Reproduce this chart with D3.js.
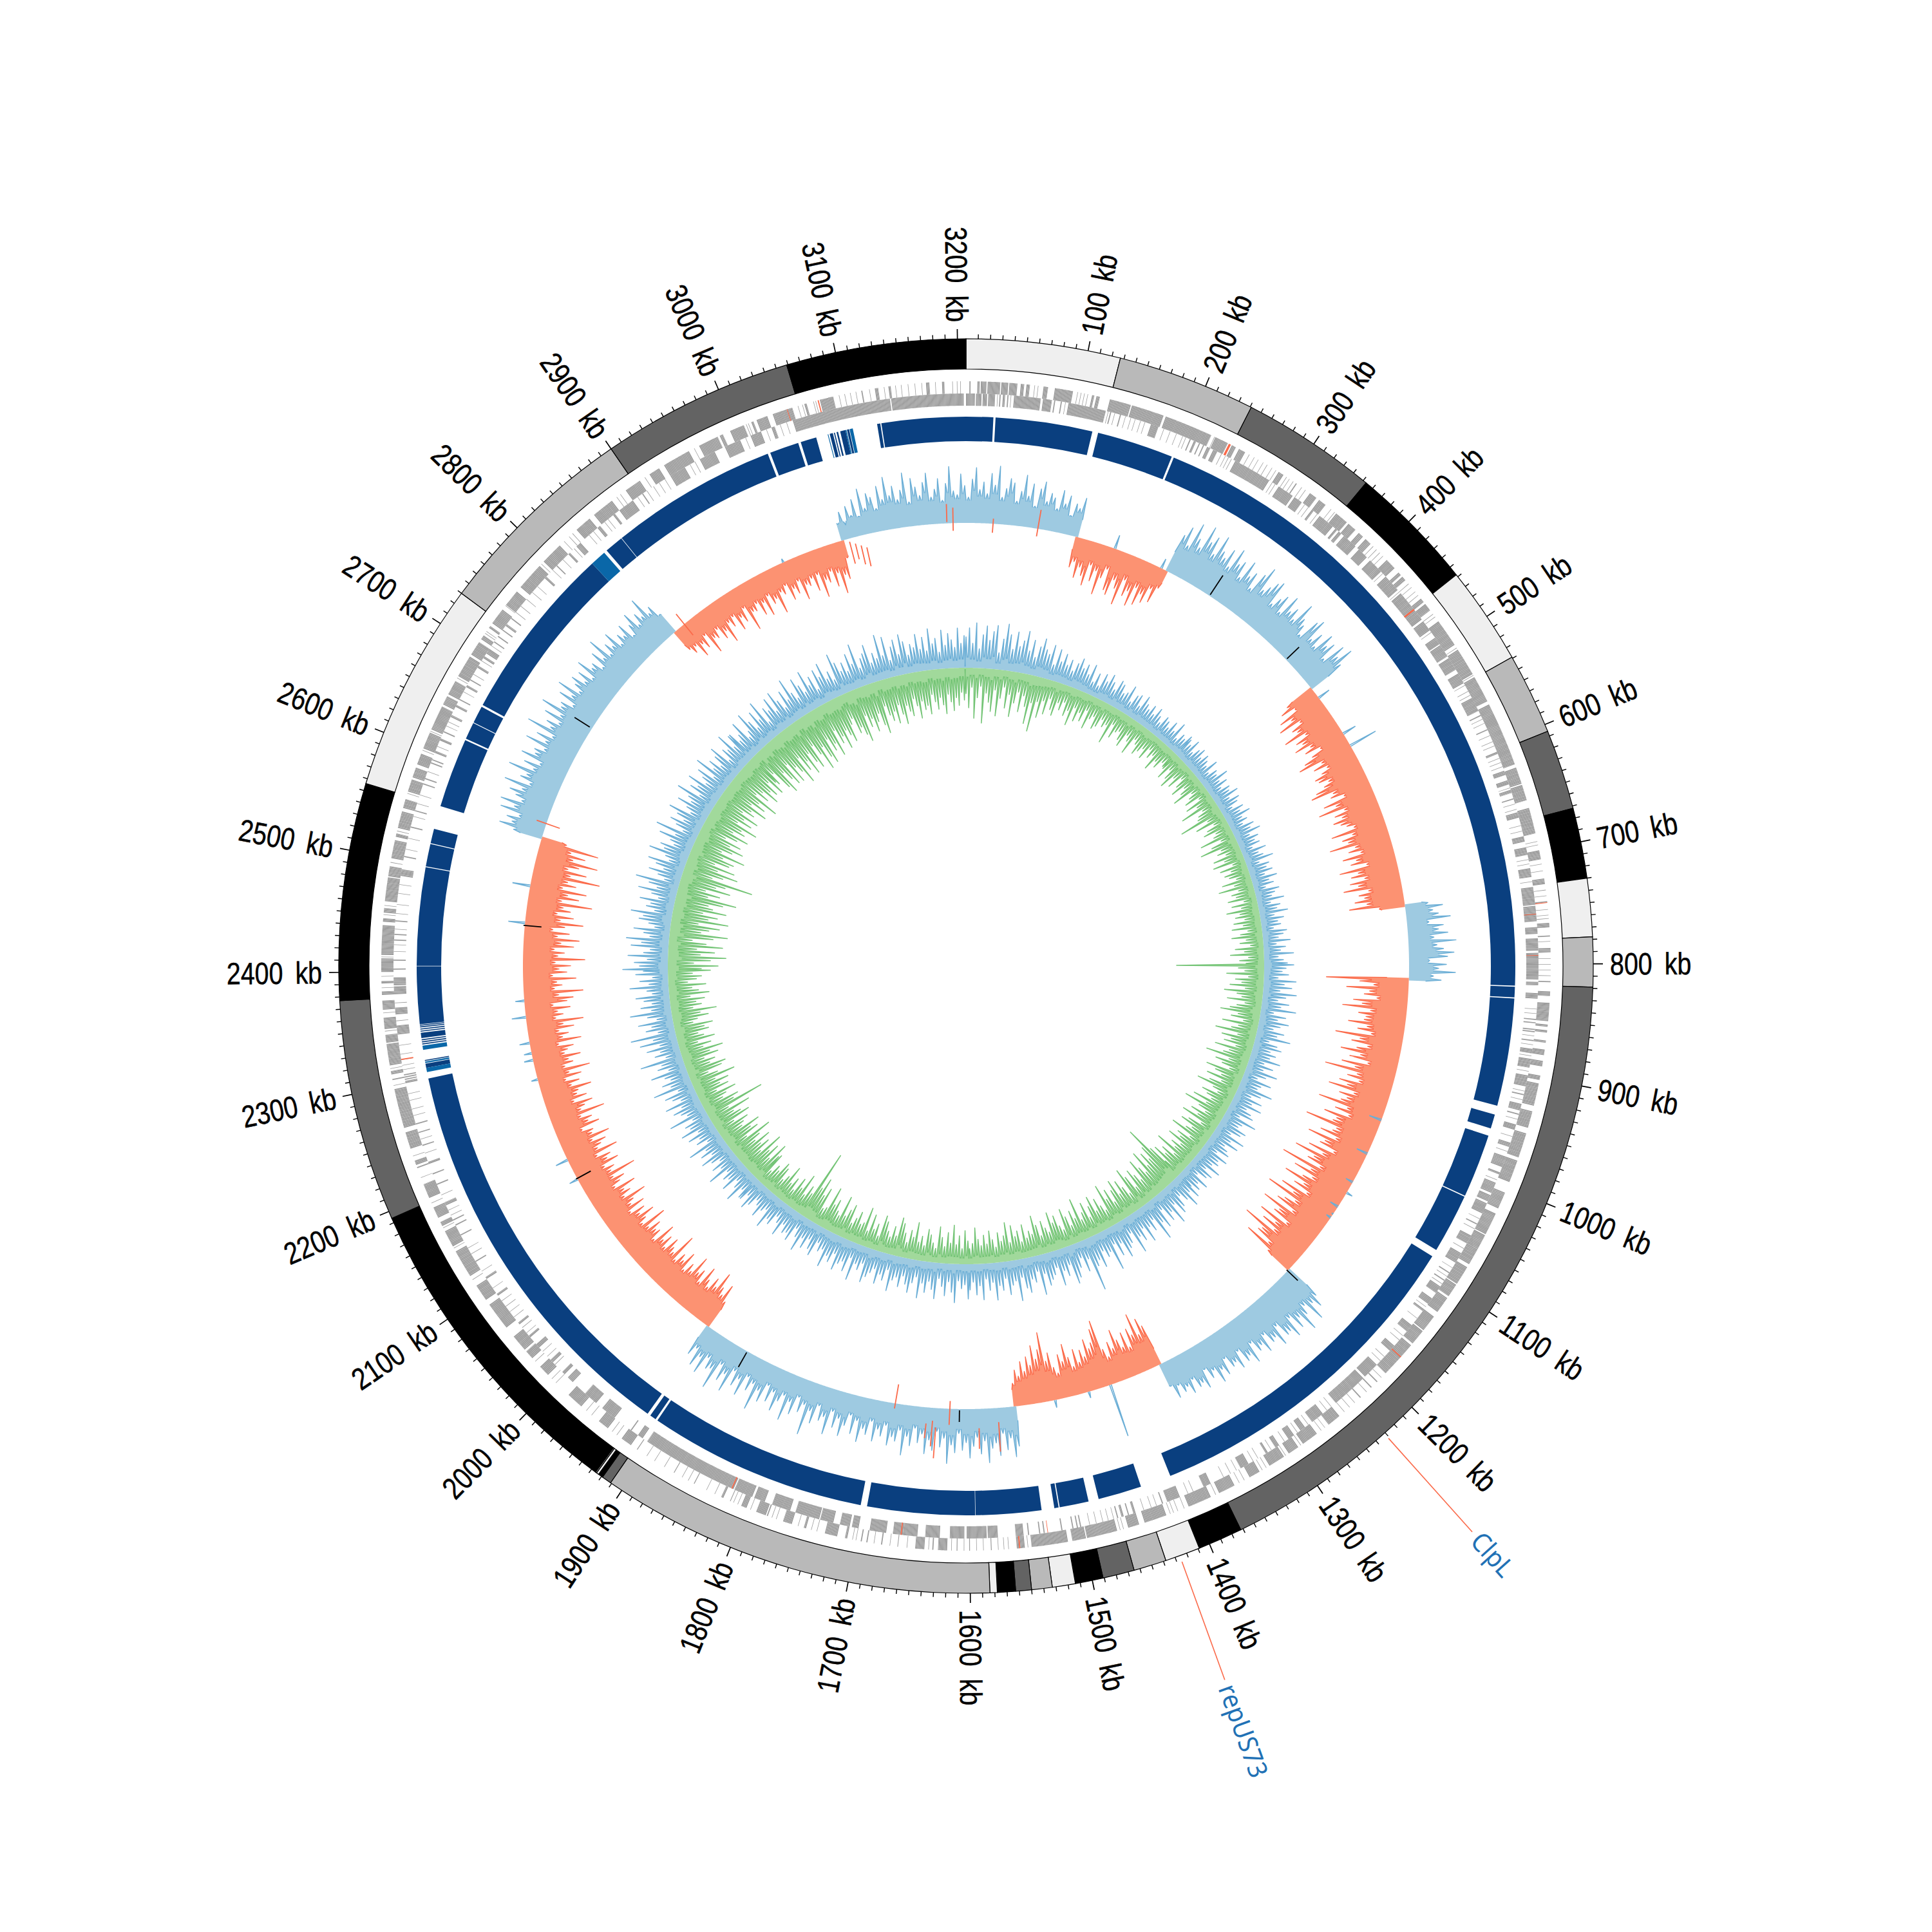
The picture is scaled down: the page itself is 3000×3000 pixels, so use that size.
<!DOCTYPE html>
<html><head><meta charset="utf-8">
<script src="https://cdnjs.cloudflare.com/ajax/libs/d3/7.8.5/d3.min.js"></script>
<style>html,body{margin:0;padding:0;background:#fff}svg{display:block}</style></head>
<body><svg id="c" width="3000" height="3000"></svg>
<script>
const genomeLength = 3207;
const ideoBreaks = [0,127,241,353,458,539,606,672,730,778,819,1372,1409,1438,1465,1491,1514,1533,1550,1563,1578,1584,1911,1919,1923,1925,1926,2194,2377,2556,2730,2900,3059,3207];
const ideoShades = [0,1,2,3,0,1,2,3,0,1,2,3,0,1,2,3,0,1,2,3,0,1,2,3,0,1,3,2,3,0,1,2,3];
const ideoColours = ["#efefef","#b9b9b9","#636363","#000000"];
const ringDark = [[0,25.5],[27.5,118.5],[124,196],[198,820],[821,831],[832,933],[941.5,955],[962,1022],[1023,1079],[1086,1409],[1438,1479],[1488.6,1516],[1517,1521],[1533,1594.6],[1595,1696],[1702,1908],[1910,1916],[1919,2300],[2310,2314],[2316.5,2317.5],[2332,2333],[2334,2335],[2336,2337],[2338,2343],[2344,2345],[2346,2347],[2348,2349],[2349.6,2350.5],[2351,2405],[2405.4,2497.6],[2498.4,2519.6],[2520.4,2534],[2556,2621.5],[2623,2639],[2639.7,2656],[2658,2825],[2843,2860.7],[2861.2,3018.5],[3021,3048.5],[3051,3066],[3079,3082],[3083,3084],[3085.5,3087],[3089,3094],[3095.5,3097.5],[3124,3127],[3128,3207]];
const ringLight = [[2306,2310],[2314.5,2316],[2327,2331],[2825,2840],[3077,3077.7],[3094,3095],[3098,3101]];
const genesOuter = [[3,4],[10,12],[13,18],[19,30],[31,37],[38,45],[48,51],[53,56],[68,72],[78,94],[111,113],[115,118],[127,146],[147,176],[178,221],[225,237],[241,245],[248,254],[288,293],[306,307],[321,328],[331,338],[350,362],[364,372],[376,381],[384,390],[410,420],[425,428],[430,434],[455,459],[461,468],[480,505],[510,535],[538,562],[565,622],[625,640],[641,655],[662,685],[700,708],[725,730],[745,746],[764,768],[775,776],[786,790],[815,816],[824,828],[834,850],[853,855],[858,860],[867,869],[875,880],[885,890],[898,902],[905,925],[930,945],[950,972],[975,995],[1005,1020],[1025,1045],[1046,1060],[1060,1075],[1078,1095],[1096,1108],[1110,1125],[1130,1145],[1146,1160],[1162,1195],[1205,1206],[1212,1213],[1225,1226],[1250,1262],[1275,1290],[1295,1305],[1310,1325],[1335,1345],[1360,1375],[1383,1404],[1425,1445],[1450,1460],[1470,1497],[1498,1510],[1514,1546],[1552,1559],[1581,1581.7],[1600,1600.7],[1611,1611.7],[1620,1628],[1632,1633],[1640,1648],[1663,1663.6],[1677,1678],[1690,1691],[1695,1696],[1708,1710],[1717,1728],[1745,1747],[1758,1766],[1780,1781],[1782,1791],[1800,1805],[1815,1815.6],[1822,1824],[1850,1850.7],[1870,1870.7],[1908,1908.7],[1915,1925],[1940,1950],[1970,1985],[2010,2020],[2030,2038],[2040,2055],[2065,2090],[2095,2110],[2120,2145],[2150,2165],[2170,2174],[2178,2188],[2197,2210],[2225,2226],[2228,2232],[2243,2258],[2262,2297],[2305,2306],[2310,2313],[2318,2337],[2338,2345],[2350,2360],[2367,2375],[2380,2383],[2390,2392],[2400,2412],[2415,2441],[2444,2447],[2452,2456],[2462,2483],[2484,2493],[2500,2516],[2519,2522],[2527,2542],[2545,2553],[2560,2571],[2573,2582],[2585,2595],[2600,2615],[2618,2640],[2642,2650],[2652,2665],[2670,2690],[2692,2705],[2708,2712],[2720,2722],[2725,2740],[2745,2760],[2765,2790],[2795,2815],[2835,2850],[2855,2875],[2890,2905],[2915,2925],[2930,2955],[2965,2983],[2985,2988],[2995,3008],[3015,3017],[3020,3030],[3035,3053],[3064,3066],[3078,3090],[3115,3116],[3127,3130],[3139,3141],[3172,3175],[3186,3188]];
const genesInner = [[0,8],[9,14],[15,19],[20,26],[30,31],[33,35],[37,38],[43,67],[69,77],[79,80],[85,86],[92,126],[130,131],[139,140],[168,175],[205,206],[209,211],[214,215],[218,219],[222,225],[228,232],[250,285],[295,310],[312,320],[331,333],[340,355],[358,360],[362,365],[368,382],[386,396],[400,414],[420,436],[440,460],[460,470],[472,482],[490,497],[498,510],[512,524],[528,538],[553,566],[570,571],[584,585],[606,608],[624,628],[633,637],[642,645],[650,651],[663,668],[685,690],[695,702],[714,722],[731,747],[748,762],[767,773],[777,788],[790,814],[816,819],[826,831],[849,850],[852,853],[858,859],[860,861],[868,869],[876,880],[885,893],[900,910],[917,918],[926,932],[935,936],[945,950],[962,966],[975,985],[990,992],[1000,1010],[1012,1018],[1020,1030],[1040,1041],[1052,1060],[1070,1080],[1090,1091],[1098,1099],[1105,1112],[1118,1124],[1130,1132],[1148,1155],[1172,1178],[1195,1210],[1212,1245],[1260,1272],[1280,1285],[1292,1298],[1308,1312],[1320,1322],[1340,1348],[1378,1385],[1408,1420],[1424,1425],[1450,1452],[1456,1457],[1461,1463],[1466,1467],[1500,1501],[1503,1504],[1507,1508],[1517,1518],[1533,1534],[1537,1538],[1547,1548],[1552,1559],[1575,1584],[1585,1603],[1605,1618],[1627,1640],[1647,1660],[1660,1669],[1675,1690],[1700,1706],[1708,1717],[1723,1735],[1736,1758],[1763,1780],[1787,1797],[1799,1816],[1817,1862],[1862,1905],[1910,1915],[1922,1923],[1941,1955],[1962,1975],[1990,1996],[2000,2003],[2015,2018],[2033,2037],[2045,2047],[2060,2062],[2092,2094],[2110,2112],[2128,2129],[2155,2156],[2165,2166],[2170,2171],[2185,2188],[2205,2206],[2215,2216],[2225,2227],[2242,2243],[2254,2255],[2262,2263],[2300,2302],[2303,2304],[2305,2306],[2307,2308],[2344,2352],[2362,2368],[2380,2387],[2388,2395],[2402,2403],[2410,2411],[2428,2429],[2433,2434],[2445,2446],[2486,2492],[2503,2504],[2530,2531],[2545,2546],[2570,2571],[2575,2576],[2590,2591],[2593,2594],[2600,2602],[2612,2614],[2620,2621],[2635,2637],[2645,2647],[2652,2653],[2665,2667],[2672,2673],[2685,2687],[2695,2697],[2700,2705],[2712,2713],[2718,2719],[2725,2726],[2730,2732],[2738,2739],[2785,2787],[2800,2801],[2815,2817],[2825,2830],[2850,2853],[2868,2870],[2875,2890],[2900,2901],[2930,2945],[2960,2975],[2985,3000],[3010,3020],[3030,3033],[3050,3060],[3060,3085],[3085,3139],[3140,3175],[3175,3205]];
const thinOuter = [60,63,98,101,104,107,224,258,263,267,272,276,281,285,296,299,303,312,316,344,348,393,397,401,405,438,442,447,451,472,475,508,536,692,695,712,718,735,740,752,757,760,780,795,800,805,810,1200,1218,1232,1238,1244,1266,1270,1292,1308,1328,1332,1350,1355,1378,1408,1414,1418,1421,1464,1467,1549,1566,1570,1575,1588,1594,1605,1616,1636,1655,1670,1684,1700,1703,1735,1740,1752,1772,1776,1796,1808,1812,1830,1838,1856,1862,1880,1890,1898,1930,1935,1958,1964,2000,2005,2026,2116,2148,2168,2192,2216,2236,2300,2315,2348,2364,2386,2396,2413,2450,2458,2496,2524,2558,2598,2616,2668,2714,2716,2744,2792,2820,2826,2830,2880,2884,2910,2960,3010,3012,3058,3062,3072,3074,3095,3100,3105,3110,3122,3135,3145,3150,3156,3162,3168,3180,3195,3199,3202];
const thinInner = [28,40,89,128,134,144,149,153,158,162,180,186,192,198,201,236,240,243,246,288,291,323,327,337,416,438,462,484,502,540,546,550,574,578,590,596,600,612,616,620,640,655,660,675,680,706,710,726,840,844,864,872,882,896,914,922,940,956,970,997,1035,1045,1065,1085,1094,1102,1127,1140,1160,1165,1185,1190,1250,1255,1276,1288,1302,1316,1330,1335,1352,1358,1365,1395,1400,1430,1435,1442,1470,1475,1480,1486,1492,2012,2022,2028,2050,2056,2068,2074,2080,2086,2100,2118,2136,2142,2175,2180,2195,2235,2248,2270,2276,2284,2290,2312,2316,2321,2326,2334,2356,2372,2418,2424,2438,2452,2460,2470,2478,2510,2520,2540,2552,2560,2582,2606,2626,2630,2660,2678,2692,2708,2745,2752,2760,2768,2775,2795,2808,2822,2840,2845,2858,2862,2895,2905,2912,2918,2924,2950,2955,3005,3025,3038,3044];
const genesHighlight = [[238,240,1],[458,459.5,0],[3076,3077,1],[3048,3048.6,1],[1175,1176,1],[1818,1819,0],[1661,1662,0],[2321,2322,0],[755,755.6,0],[746,746.6,1],[1556,1557,1],[1530,1530.5,0],[792,792.5,0]];
const skewA = [26,44,22,50,34,58,30,72,40,62,55,36,70,48,82,52,66,44,58,84,38,74,60,46,66,80,42,54,70,36,62,88,50,44,76,58,40,68,86,52,64,46,78,60,90,42,56,72,66,38,54,80,48,68,34,62,74,44,58,52,36,66,46,60,30,50,44,62];
const skewB = [-48,-38,-62,-44,-56,-70,-36,-60,-42,-78,-50,-34,-66,-72,-46,-58,-82,-40,-64,-54,-76,-44,-70,-50,-62,-36,-56,-30];
const skewC = [62,78,50,90,68,56,95,72,84,58,92,70,62,80,54,88,66,74,50,82,60,70,46,76,92,56,66,78,84,48,62,72,46,80,58,68,52,86,64,56,42,74,82,50,66,46,76,60,70,44,78,62,84,58];
const skewD = [-48,-62,-40,-72,-55,-80,-46,-64,-58,-84,-50,-70,-62,-78,-54,-66,-42,-60,-76,-88,-52,-68,-48,-60,-74,-70,-56,-66,-82,-92,-58,-64,-44,-80,-62,-92,-52,-70,-60,-76,-66,-58,-48,-86,-54,-72,-64,-95,-56,-68,-50,-80,-60,-70,-46,-90,-62,-74,-54,-78,-66,-90,-52,-68,-60,-76,-58,-86,-40];
const skewE = [36,58,42,50,68,34,56,48,62,40,74,44,54,70,60,32,58,46,72,38,50];
const skewF = [-128,-76,-54,-96,-60,-68,-48,-84,-70,-100,-56,-74,-62,-64,-88,-58,-72,-50,-105,-66,-78,-52,-68,-92,-60,-76,-46,-86,-64,-110,-58,-72,-52,-82,-68,-96,-54,-76,-62,-70,-104,-56,-74,-50,-88,-66,-70,-112,-60,-64,-82,-54,-98,-68,-74,-48,-88,-62,-106,-72,-80,-56,-118,-66,-92,-58,-72,-100,-64,-78,-52,-94,-70,-112,-60,-76,-86,-54,-104,-72,-78,-50,-96,-64,-84,-58,-110,-74,-78,-52,-90,-44];
const skewG = [58,74,62,88,56,68,92,64,78,54,84,70,72,50,80,62,66,48,74,58,64,46,76,60,66,44,70,56,60,42,66,54,72,48,58,40,68,56,60,44,64,50,56,42,60,38];
const skewH = [-66,-80,-56,-92,-60,-72,-44,-70,-48,-62,-80,-52,-64,-42,-56,-104,-92,-72,-64,-80,-54,-66,-48,-70,-44,-60,-82,-56,-68,-40,-50,-74,-62,-108,-82,-68,-90,-60,-74,-52,-68,-46,-56,-36];
const skewI = [62,78,48,66,40,74,54,62,84,50,70,44,58,76,52,64,38,68,56,85,46,60,36,66,50,72,42,56,34,62,48,78,40,58,52,66,36,54,44,64,34,56,48,70,38,60,32,50,68,42,58,34,72,46,54,32,62,44,84,38,52,30,60,42,74,36,48,66,38,56,32,62,46,80,40,54,34,68,44,58,36,74,48,62,38,82,52,56,40,70,46,64,38,52];
const skewJ = [-46,-72,-52,-62,-84,-56,-68,-48,-58,-76,-46,-64,-56,-80,-50,-60,-44,-72,-54,-62,-46,-88,-52,-58,-70,-48,-66,-54,-78,-44,-60,-56,-68,-50,-84,-46,-56,-74,-52,-64,-42,-70,-50,-58,-82,-48,-62,-54,-76,-44,-56,-66,-50,-90,-52,-60,-46,-72,-56,-64,-44,-80,-50,-58,-68,-48,-78,-52,-56,-40,-70,-54,-62,-46,-86,-50,-58,-72,-44,-66,-52,-56,-78,-48,-62,-42,-68,-50,-84,-46,-60,-54,-74,-50,-56,-66,-44,-80,-52,-62,-48,-72,-56,-88,-46,-58,-50,-70,-44,-66,-76,-54,-92,-48,-60,-52,-82,-46,-68,-56,-74,-50,-96,-54,-64,-48,-78,-58,-86,-52,-70,-44,-62,-90,-54,-74,-48,-68,-56,-100,-52,-78,-60,-88,-50,-70,-56,-105,-58,-82,-52,-68,-96,-56,-74,-50,-92,-40];
const skewK = [46,70,52,62,44,76,56,80,48,60,72,54,85,46,64,56,88,50,68,44,78,58,62,48,82,52,70,46,92,56,66,48,76,52,88,58,62,44,72,54,82,48,60,70,50,66,44,76,54,58,42,68,50,82,46,62,52,72,44,58,50,66,40,56,72,46,62,52,80,48,56,36];
const skewL = [-36,-46,-38,-60,-42,-52,-34,-68,-46,-50,-38,-58,-48,-70,-40,-50,-36,-62,-44,-54,-34,-74,-46,-48,-38,-60,-42,-66,-36,-52,-46,-72,-40,-46,-34,-60,-44,-54,-36,-68,-46,-50,-40,-62,-38,-76,-50,-56,-40,-66,-46,-80,-52,-60,-28];
const skewRuns = [[3063,3336,28,skewA],[129,240,-20,skewB],[240,456,32,skewC],[456,732,-36,skewD],[732,817,26,skewE],[817,1187,-34,skewF],[1187,1372,36,skewG],[1372,1547,-26,skewH],[1547,1921,22,skewI],[1921,2555,-32,skewJ],[2555,2841,34,skewK],[2841,3063,-25,skewL]];
const blueInOrange = [[175,22],[233,16],[470,20],[520,22],[536,45],[983,-20],[1025,-18],[1062,-12],[1076,10],[1095,-14],[1105,-2],[1110,-8],[1434,84],[1460,10],[1500,12],[2174,20],[2149,14],[2273,10],[2296,14],[2304,12],[2316,16],[2346,22],[2365,14],[2455,26],[2498,28],[2990,6]];
const orangeInBlue = [[31,-14,8],[83,-12,30],[3185,2,30],[3192,-12,24],[1589,30,62],[1567,22,68],[1622,-12,25],[1637,30,78],[1641,20,60],[1648,25,48],[1685,-30,8],[2572,-22,16],[3070,-40,-5],[3076,-35,-10],[3082,-45,-15],[3088,-50,-20],[2855,-22,20]];
const blackMarks = [[297,2,38],[412,2,28],[1189,-2,22],[1611,2,20],[1867,2,28],[2150,-24,2],[2452,-26,2],[2694,4,32]];
const gcHi0 = [48,62,38,70,30,52,66,44,58,68,26,48,72,56,34,62,40,50,66,36,54,28,46,60,44,38,54,24,50,32,46,30,40,24,38,48,34,42,28,46,20,36,18,40,30,44,34,24,42,38,26,30,44,20,34,38,22,42,32,26,36,24,38,28,20,34,30,22,36,24,42,18,30,26,36];
const gcHi1 = [32,26,38,20,30,36,24,34,28,22,38,18,30,26,42,24,34,20,32,28,40,22,36,30,18,34,26,40,24,30,20,36,28,42,22,34,26,32,18,38,24,30,44,20,34,28,36,22,40,26,32,18,38,30,24,42,20,34,28,44,22,36,26,30,18,38,32,24,42,20,34,26,46,22,30,36];
const gcHi2 = [46,34,28,38,22,50,32,44,26,52,36,24,42,30,54,20,40,28,46,34,24,42,32,54,22,36,44,28,38,30,48,24,40,26,50,34,22,46,32,28,54,38,24,44,30,48,26,36,42,22,52,32,28,44,38,24,50,30,46,26,34,40,22,44,32,36,28,46,24,40,34,20,44,30,38,26];
const gcHi3 = [44,30,52,36,24,40,48,28,58,34,46,22,50,38,64,26,42,32,54,28,46,36,60,24,38,44,56,30,48,26,66,34,40,28,52,38,46,83,30,48,24,38,52,60,28,44,34,56,26,36,42,50,30,62,24,40,34,54,46,28,64,32,38,52,26,44,36,58,30,42,24,56,34,48,28,40];
const gcHi4 = [54,32,38,26,60,44,28,50,36,24,56,42,30,48,34,58,26,36,52,40,28,46,32,38,56,24,42,34,50,28,36,44,54,26,38,30,58,24,48,34,40,52,28,44,36,56,30,36,24,48,40,26,44,30,54,34,22,46,36,40,28,50,32,24,42,36,54,26,32,46,30,24,38,48,28,40];
const gcHi5 = [40,28,54,34,24,48,32,38,26,56,30,42,24,36,50,28,44,32,58,22,38,30,46,26,52,34,40,24,60,28,36,46,30,54,26,38,48,24,62,32,44,28,36,56,26,42,34,66,24,40,30,50,28,58,36,70,26,44,34,54,24,38,64,30,46,28,40,52,26,34,60,30,44,24,50,38];
const gcHi6 = [70,44,52,32,62,38,28,58,42,66,30,40,56,24,34,50,44,64,28,42,36,54,26,38,60,32,46,68,24,36,52,30,44,58,26,34,62,40,48,28,36,56,32,66,24,38,50,30,44,60,26,36,54,34,42,64,28,48,38,58,30,40,52,26,62,34,46,28,44,56,24,42,36,60,32,50];
const gcHi7 = [50,32,40,58,26,34,62,44,28,54,36,64,24,46,38,56,30,60,42,26,52,34,66,40,28,58,44,30,62,36,48,24,54,40,60,32,42,26,66,50,34,46,30,56,38,68,28,42,48,60,30,44,34,70,36,64,26,46,56,32,62,50,28,44,38,58,34,52,30,64,40,48,26,60,36,54,44,32,62,38,50];
const gcLo0 = [-40,-62,-30,-78,-46,-28,-85,-38,-52,-66,-32,-72,-44,-26,-58,-36,-70,-48,-30,-60,-34,-50,-76,-42,-86,-38,-62,-34,-54,-28,-44,-52,-30,-40,-26,-46,-36,-58,-28,-48,-32,-44,-24,-52,-34,-28,-46,-40,-26,-36,-30,-58,-24,-44,-32,-28,-40,-48,-26,-34,-52,-24,-30,-44,-36,-28,-42,-22,-34,-26,-48,-30,-38,-24,-28];
const gcLo1 = [-30,-44,-24,-38,-50,-28,-42,-20,-34,-46,-26,-36,-52,-22,-30,-40,-18,-44,-28,-58,-24,-34,-38,-70,-26,-48,-20,-34,-42,-24,-30,-54,-22,-40,-60,-28,-36,-24,-46,-30,-50,-20,-42,-26,-38,-32,-22,-46,-28,-54,-24,-36,-30,-44,-20,-40,-26,-50,-30,-38,-24,-42,-28,-46,-22,-34,-48,-26,-36,-20,-44,-30,-52,-24,-38,-28];
const gcLo2 = [-136,-40,-30,-58,-24,-44,-34,-52,-28,-60,-40,-32,-54,-26,-38,-48,-62,-34,-44,-24,-56,-30,-40,-64,-28,-52,-36,-46,-26,-58,-34,-42,-68,-30,-50,-38,-24,-60,-44,-32,-54,-28,-46,-64,-36,-26,-50,-40,-30,-58,-34,-68,-42,-28,-50,-36,-60,-24,-44,-54,-32,-40,-62,-26,-46,-38,-56,-30,-44,-34,-64,-28,-48,-38,-56,-30];
const gcLo3 = [-60,-100,-70,-50,-64,-44,-72,-38,-50,-66,-34,-46,-58,-30,-52,-68,-28,-42,-56,-36,-62,-48,-30,-54,-40,-66,-26,-36,-50,-32,-58,-44,-28,-54,-40,-30,-66,-36,-50,-28,-44,-58,-26,-34,-52,-42,-60,-30,-38,-50,-28,-46,-62,-34,-40,-30,-52,-26,-44,-36,-54,-28,-60,-40,-32,-46,-24,-36,-50,-30,-44,-28,-38,-56,-32,-24];
const gcLo4 = [-36,-52,-24,-44,-30,-60,-32,-48,-26,-40,-56,-22,-30,-42,-50,-24,-38,-28,-58,-34,-44,-24,-38,-52,-60,-30,-44,-26,-34,-48,-56,-22,-40,-30,-52,-24,-60,-34,-30,-48,-36,-26,-54,-44,-32,-62,-28,-34,-50,-40,-66,-30,-26,-58,-44,-70,-52,-110,-36,-46,-28,-60,-34,-48,-24,-42,-30,-56,-36,-26,-44,-50,-32,-38,-24,-52];
const gcLo5 = [-48,-66,-36,-58,-44,-70,-34,-54,-42,-62,-38,-50,-72,-32,-56,-46,-64,-36,-42,-52,-30,-60,-48,-38,-68,-34,-95,-48,-58,-34,-42,-60,-30,-52,-40,-56,-36,-70,-44,-30,-54,-62,-38,-48,-32,-56,-44,-66,-36,-50,-30,-58,-42,-34,-52,-46,-60,-30,-38,-56,-44,-70,-34,-48,-40,-54,-32,-62,-46,-36,-58,-30,-44,-52,-38,-66];
const gcLo6 = [-52,-78,-40,-66,-90,-50,-72,-44,-84,-58,-36,-68,-90,-48,-60,-76,-42,-88,-56,-70,-46,-82,-60,-52,-74,-94,-48,-66,-42,-80,-56,-70,-112,-46,-62,-84,-50,-76,-42,-64,-70,-50,-84,-44,-60,-76,-52,-68,-40,-58,-74,-46,-64,-56,-80,-44,-66,-50,-72,-42,-60,-52,-76,-46,-68,-54,-84,-42,-62,-48,-74,-56,-66,-44,-70,-52];
const gcLo7 = [-58,-40,-72,-84,-50,-66,-78,-44,-80,-56,-68,-90,-48,-74,-60,-85,-52,-70,-82,-46,-64,-92,-56,-76,-88,-50,-72,-62,-84,-44,-68,-58,-80,-52,-62,-74,-48,-40,-66,-58,-72,-84,-44,-64,-52,-74,-60,-48,-68,-82,-40,-56,-66,-52,-72,-44,-60,-76,-48,-58,-66,-40,-52,-72,-46,-60,-54,-68,-38,-50,-62,-44,-56,-70,-40,-52,-66,-46,-58,-38,-50];
const gcSpanBreaks = [0,400,800,1200,1600,2000,2400,2800,3207];
const gcHighParts = [gcHi0,gcHi1,gcHi2,gcHi3,gcHi4,gcHi5,gcHi6,gcHi7];
const gcLowParts = [gcLo0,gcLo1,gcLo2,gcLo3,gcLo4,gcLo5,gcLo6,gcLo7];
const tickKb = d3.range(10,3201,10);
const labelKb = d3.range(100,3201,100);
const callouts = [{name:"ClpL",kb:1231},{name:"repUS73",kb:1426}];

const C=1500;
const svg=d3.select("#c");
const g=svg.append("g").attr("transform",`translate(${C},${C})`);
const ang=d3.scaleLinear().domain([0,genomeLength]).range([0,2*Math.PI]);
const deg=k=>ang(k)*180/Math.PI;
const arc=d3.arc();
const ab=(a,b,r0,r1)=>arc({startAngle:ang(a),endAngle:ang(b),innerRadius:r0,outerRadius:r1});
const R={ideoOut:974,ideoIn:927,gOut:908,gMid:889,gIn:870,ringOut:853,ringIn:815,skew:688,gc:463};

g.append("g").selectAll("path").data(ideoShades).join("path")
 .attr("d",(s,i)=>ab(ideoBreaks[i],ideoBreaks[i+1],R.ideoIn,R.ideoOut))
 .attr("fill",s=>ideoColours[s]).attr("stroke","#000").attr("stroke-width",1.2);

g.append("g").selectAll("line").data(tickKb).join("line")
 .attr("transform",k=>`rotate(${deg(k)})`)
 .attr("y1",-R.ideoOut).attr("y2",k=>-(R.ideoOut+(k%100===0?15:7)))
 .attr("stroke","#000").attr("stroke-width",k=>k%100===0?1.7:1.4);

g.append("g").selectAll("text").data(labelKb).join("text")
 .attr("transform",k=>{const d=deg(k);return (d>180?`rotate(${d-90}) translate(1000,0) rotate(180)`:`rotate(${d-90}) translate(1000,0)`)+" scale(0.82,1)";})
 .attr("text-anchor",k=>deg(k)>180?"end":"start").attr("dy","0.35em")
 .attr("font-family","'Liberation Sans'").attr("font-size",48).attr("word-spacing",10)
 .attr("fill","#000").attr("stroke","#000").attr("stroke-width",0.5).text(k=>`${k} kb`);

callouts.forEach(c=>{
  g.append("line").attr("transform",`rotate(${deg(c.kb)})`).attr("y1",-984).attr("y2",-1179).attr("stroke","#fb6a4a").attr("stroke-width",1.6);
  g.append("text").attr("transform",`rotate(${deg(c.kb)-90}) translate(1188,0) scale(0.92,1)`).attr("dy","0.35em")
   .attr("font-family","'Noto Sans'").attr("font-size",41).attr("fill","#2171b5").text(c.name);
});

function drawGenes(list,thin,r0,r1){
  const bits=thin.map(k=>[k,k+0.45]);
  list.forEach(([a,b])=>{ if(b-a<1.3){bits.push([a,b]);} else d3.range(a,b,1.25).forEach(s=>bits.push([s,Math.min(s+1.17,b)])); });
  g.append("g").selectAll("path").data(bits).join("path").attr("d",d=>ab(d[0],d[1],r0,r1)).attr("fill","#9d9d9d");
}
drawGenes(genesOuter,thinOuter,R.gMid,R.gOut);
drawGenes(genesInner,thinInner,R.gIn,R.gMid);
g.append("g").selectAll("path").data(genesHighlight).join("path")
 .attr("d",d=>d[2]?ab(d[0],d[1],R.gMid,R.gOut):ab(d[0],d[1],R.gIn,R.gMid)).attr("fill","#fb6a4a");

g.append("g").selectAll("path").data(ringDark).join("path").attr("d",d=>ab(d[0],d[1],R.ringIn,R.ringOut)).attr("fill","#0a3f7f");
g.append("g").selectAll("path").data(ringLight).join("path").attr("d",d=>ab(d[0],d[1],R.ringIn,R.ringOut)).attr("fill","#0a67a8");

const pts=(a,b,v)=>{const x=d3.scaleLinear().domain([0,v.length-1]).range([a,b]);return v.map((y,i)=>[x(i),y]);};
// Expands peak readings into narrow spikes over a filled band
function spikes(p,band,delta,k){
  const s=band<0?-1:1, ab0=Math.abs(band);
  const valley=(u,v)=>{const m=Math.min(Math.abs(u),Math.abs(v));return s*(m<=ab0?ab0:ab0+k*(m-ab0));};
  const outline=[],legs=[];
  p.forEach(([x,v],i)=>{
    const l=i?valley(p[i-1][1],v):band, r=i<p.length-1?valley(v,p[i+1][1]):band;
    outline.push([x-delta,l],[x,v],[x+delta,r]);
    legs.push([[x-delta,l],[x,v],[x+delta,r]]);
  });
  return {outline,legs};
}
function drawTrack(parent,base,p,band,delta,k,sw,fill,stroke){
  const rs=d3.scaleLinear().domain([-140,100]).range([base-140,base+100]);
  const area=d3.areaRadial().angle(d=>ang(d[0])).innerRadius(base).outerRadius(d=>rs(d[1]));
  const line=d3.lineRadial().angle(d=>ang(d[0])).radius(d=>rs(d[1]));
  const {outline,legs}=spikes(p,band,delta,k);
  parent.append("path").attr("d",area(outline)).attr("fill",fill);
  parent.append("path").attr("d",legs.map(l=>line(l)).join("")).attr("fill","none").attr("stroke",stroke).attr("stroke-width",sw).attr("stroke-linejoin","round");
}
const gSkew=g.append("g");
skewRuns.forEach(([a,b,band,v])=>{
  const pos=band>0;
  drawTrack(gSkew,R.skew,pts(a,b,v),band,1.5,0.55,1.4,pos?"#9ecae1":"#fc9272",pos?"#6baed6":"#fb6a4a");
});
const skewR=d3.scaleLinear().domain([-140,100]).range([R.skew-140,R.skew+100]);
const lineR=d3.lineRadial().angle(d=>ang(d[0])).radius(d=>skewR(d[1]));
gSkew.selectAll("path.bo").data(blueInOrange).join("path").attr("class","bo")
 .attr("d",d=>lineR([[d[0]-1,0],[d[0],d[1]],[d[0]+1,0]])).attr("fill","none").attr("stroke","#6baed6").attr("stroke-width",1.6);
gSkew.selectAll("path.ob").data(orangeInBlue).join("path").attr("class","ob")
 .attr("d",d=>lineR([[d[0],d[1]],[d[0]+0.3,d[2]]])).attr("fill","none").attr("stroke","#fb6a4a").attr("stroke-width",1.8);
gSkew.selectAll("path.bm").data(blackMarks).join("path").attr("class","bm")
 .attr("d",d=>lineR([[d[0],d[1]],[d[0],d[2]]])).attr("fill","none").attr("stroke","#000").attr("stroke-width",1.8);

const gcAll=parts=>parts.flatMap((v,i)=>pts(gcSpanBreaks[i],gcSpanBreaks[i+1]-3,v));
const gGc=g.append("g");
drawTrack(gGc,R.gc,gcAll(gcHighParts),2,1.9,0.3,1.5,"#9ecae1","#6baed6");
drawTrack(gGc,R.gc,gcAll(gcLowParts),-2,1.9,0.3,1.5,"#a1d99b","#74c476");
</script></body></html>
